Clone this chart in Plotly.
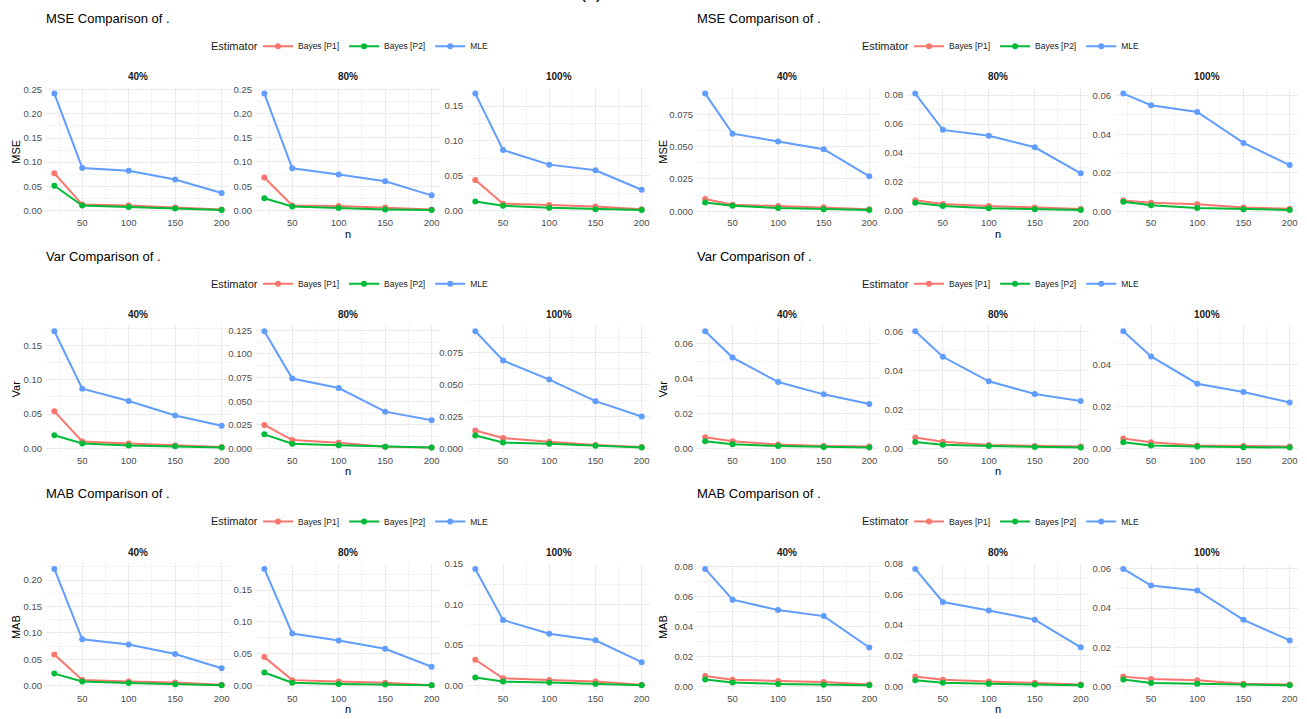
import plotly.graph_objects as go

W, H = 1307, 719
FONT = "Liberation Sans"

# ---------------------------------------------------------------- data
n_values = [20, 50, 100, 150, 200]
n_ticks = [50, 100, 150, 200]
n_minor = [25, 75, 125, 175]
censoring = ["40%", "80%", "100%"]
estimators = ["Bayes [P1]", "Bayes [P2]", "MLE"]
colors = ["#F8766D", "#00BA38", "#619CFF"]

# each list holds the 40%, 80%, 100% series over n_values
mse_a_p1 = [[0.077, 0.012, 0.010, 0.006, 0.002],
            [0.068, 0.010, 0.009, 0.006, 0.002],
            [0.044, 0.010, 0.008, 0.006, 0.002]]
mse_a_p2 = [[0.051, 0.010, 0.007, 0.004, 0.001],
            [0.025, 0.008, 0.005, 0.002, 0.001],
            [0.013, 0.007, 0.004, 0.002, 0.001]]
mse_a_mle = [[0.242, 0.088, 0.082, 0.064, 0.036],
             [0.241, 0.087, 0.074, 0.060, 0.031],
             [0.168, 0.087, 0.066, 0.058, 0.030]]
mse_a_step = [0.05, 0.05, 0.05]

mse_b_p1 = [[0.0095, 0.0050, 0.0040, 0.0030, 0.0015],
            [0.0075, 0.0048, 0.0035, 0.0025, 0.0015],
            [0.0057, 0.0045, 0.0037, 0.0020, 0.0014]]
mse_b_p2 = [[0.0068, 0.0043, 0.0025, 0.0015, 0.0010],
            [0.0058, 0.0035, 0.0020, 0.0013, 0.0008],
            [0.0050, 0.0032, 0.0018, 0.0012, 0.0008]]
mse_b_mle = [[0.091, 0.060, 0.054, 0.048, 0.027],
             [0.081, 0.056, 0.052, 0.044, 0.026],
             [0.061, 0.055, 0.0515, 0.0355, 0.024]]
mse_b_step = [0.025, 0.02, 0.02]

var_a_p1 = [[0.054, 0.010, 0.007, 0.004, 0.002],
            [0.025, 0.009, 0.006, 0.002, 0.001],
            [0.014, 0.008, 0.005, 0.0025, 0.001]]
var_a_p2 = [[0.019, 0.007, 0.004, 0.003, 0.001],
            [0.015, 0.005, 0.0035, 0.002, 0.001],
            [0.010, 0.0045, 0.0035, 0.002, 0.0005]]
var_a_mle = [[0.171, 0.087, 0.069, 0.048, 0.033],
             [0.124, 0.074, 0.064, 0.039, 0.030],
             [0.092, 0.069, 0.054, 0.037, 0.025]]
var_a_step = [0.05, 0.025, 0.025]

var_b_p1 = [[0.0065, 0.0042, 0.0023, 0.0015, 0.0012],
            [0.0058, 0.0037, 0.0020, 0.0015, 0.0012],
            [0.0048, 0.0030, 0.0015, 0.0012, 0.0010]]
var_b_p2 = [[0.0042, 0.0025, 0.0015, 0.0010, 0.0006],
            [0.0036, 0.0022, 0.0015, 0.0010, 0.0007],
            [0.0030, 0.0015, 0.0010, 0.0006, 0.0005]]
var_b_mle = [[0.067, 0.052, 0.038, 0.031, 0.0255],
             [0.060, 0.047, 0.0345, 0.028, 0.0245],
             [0.056, 0.044, 0.031, 0.027, 0.022]]
var_b_step = [0.02, 0.02, 0.02]

mab_a_p1 = [[0.059, 0.011, 0.008, 0.006, 0.002],
            [0.045, 0.009, 0.007, 0.005, 0.001],
            [0.032, 0.009, 0.007, 0.005, 0.001]]
mab_a_p2 = [[0.023, 0.008, 0.005, 0.003, 0.001],
            [0.021, 0.005, 0.003, 0.002, 0.001],
            [0.010, 0.005, 0.004, 0.002, 0.0005]]
mab_a_mle = [[0.221, 0.088, 0.078, 0.060, 0.033],
             [0.183, 0.082, 0.071, 0.058, 0.030],
             [0.144, 0.081, 0.064, 0.056, 0.029]]
mab_a_step = [0.05, 0.05, 0.05]

mab_b_p1 = [[0.0070, 0.0045, 0.0037, 0.0030, 0.0013],
            [0.0065, 0.0043, 0.0033, 0.0025, 0.0013],
            [0.0050, 0.0038, 0.0032, 0.0014, 0.0010]]
mab_b_p2 = [[0.0047, 0.0027, 0.0017, 0.0012, 0.0008],
            [0.0040, 0.0025, 0.0017, 0.0012, 0.0008],
            [0.0035, 0.0018, 0.0013, 0.0009, 0.0006]]
mab_b_mle = [[0.0785, 0.058, 0.051, 0.047, 0.026],
             [0.0765, 0.055, 0.0495, 0.0435, 0.0255],
             [0.060, 0.0515, 0.049, 0.034, 0.0235]]
mab_b_step = [0.02, 0.02, 0.02]

# (measure label, row, column, series, y tick steps)
blocks = [
    ("MSE", 0, 0, (mse_a_p1, mse_a_p2, mse_a_mle), mse_a_step),
    ("MSE", 0, 1, (mse_b_p1, mse_b_p2, mse_b_mle), mse_b_step),
    ("Var", 1, 0, (var_a_p1, var_a_p2, var_a_mle), var_a_step),
    ("Var", 1, 1, (var_b_p1, var_b_p2, var_b_mle), var_b_step),
    ("MAB", 2, 0, (mab_a_p1, mab_a_p2, mab_a_mle), mab_a_step),
    ("MAB", 2, 1, (mab_b_p1, mab_b_p2, mab_b_mle), mab_b_step),
]

# ---------------------------------------------------------------- layout geometry (pixels)
panel_cols = [
    [(46, 230), (256, 440), (467, 650)],
    [(697, 877.5), (907, 1089), (1115, 1298)],
]
row_offset = [0, 239.67, 479.33]
panel_top, panel_bottom = 83.5, 212.5
title_y, legend_y, strip_y, xtitle_y = 13.5, 41.5, 72.5, 230.5
ytitle_x = [16, 663]
legend_title_x = [209, 860]   # left edge of the "Estimator" caption
legend_items_x = [258, 909]   # left edge of the legend entries

GRID = "#EBEBEB"
MINOR = "#F3F3F3"
TICK_FONT = dict(family=FONT, size=9.5, color="#4D4D4D")


def fx(p):
    return p / W


def fy(p):
    return 1 - p / H


fig = go.Figure()
layout = dict(
    width=W, height=H,
    margin=dict(l=0, r=0, t=0, b=0),
    paper_bgcolor="white", plot_bgcolor="white",
    font=dict(family=FONT, color="#1A1A1A"),
)
annotations = []

for b, (measure, row, col, series, steps) in enumerate(blocks):
    oy = row_offset[row]
    legend_name = "legend" if b == 0 else f"legend{b + 1}"
    layout[legend_name] = dict(
        orientation="h", x=fx(legend_items_x[col]), y=fy(legend_y + oy),
        xanchor="left", yanchor="middle",
        font=dict(family=FONT, size=8.5, color="#1A1A1A"),
        itemwidth=30, bgcolor="rgba(0,0,0,0)", tracegroupgap=0,
    )
    annotations.append(dict(
        text="Estimator", x=fx(legend_title_x[col]), y=fy(legend_y + oy),
        xref="paper", yref="paper", showarrow=False, xanchor="left", yanchor="middle",
        font=dict(family=FONT, size=11, color="#1A1A1A"),
    ))
    for f in range(3):
        k = b * 3 + f + 1
        xa = "xaxis" if k == 1 else f"xaxis{k}"
        ya = "yaxis" if k == 1 else f"yaxis{k}"
        xr = "x" if k == 1 else f"x{k}"
        yr = "y" if k == 1 else f"y{k}"
        x0, x1 = panel_cols[col][f]

        vals = series[0][f] + series[1][f] + series[2][f]
        lo, hi = min(vals), max(vals)
        pad = 0.05 * (hi - lo)
        step = steps[f]
        fmt = ".3f" if round(step * 1000) % 10 else ".2f"

        layout[xa] = dict(
            domain=[fx(x0), fx(x1)], anchor=yr, range=[11, 209],
            tickmode="array", tickvals=n_ticks, ticks="",
            showgrid=True, gridcolor=GRID, gridwidth=1.2,
            minor=dict(tickmode="array", tickvals=n_minor, showgrid=True,
                       gridcolor=MINOR, gridwidth=0.8),
            zeroline=False, showline=False, tickfont=TICK_FONT,
            ticklabelstandoff=0,
        )
        layout[ya] = dict(
            domain=[fy(panel_bottom + oy), fy(panel_top + oy)], anchor=xr,
            range=[lo - pad, hi + pad],
            tickmode="linear", tick0=0, dtick=step, tickformat=fmt, ticks="",
            showgrid=True, gridcolor=GRID, gridwidth=1.2,
            minor=dict(tickmode="linear", tick0=0, dtick=step / 2, showgrid=True,
                       gridcolor=MINOR, gridwidth=0.8),
            zeroline=False, showline=False, tickfont=TICK_FONT,
            ticklabelstandoff=3,
        )

        for s, est in enumerate(estimators):
            fig.add_trace(go.Scatter(
                x=n_values, y=series[s][f], mode="lines+markers", name=est,
                line=dict(color=colors[s], width=2),
                marker=dict(color=colors[s], size=6),
                xaxis=xr, yaxis=yr, legend=legend_name, showlegend=(f == 0),
            ))

        # facet strip label
        annotations.append(dict(
            text=f"<b>{censoring[f]}</b>", x=fx((x0 + x1) / 2), y=fy(strip_y + oy),
            xref="paper", yref="paper", showarrow=False, xanchor="center", yanchor="middle",
            font=dict(family=FONT, size=10, color="#1A1A1A"),
        ))

    first_x0 = panel_cols[col][0][0]
    last_x1 = panel_cols[col][2][1]
    annotations.append(dict(
        text=f"{measure} Comparison of .", x=fx(first_x0 - 2), y=fy(title_y + oy),
        xref="paper", yref="paper", showarrow=False, xanchor="left", yanchor="middle",
        font=dict(family=FONT, size=13, color="black"),
    ))
    annotations.append(dict(
        text=measure, x=fx(ytitle_x[col]), y=fy((panel_top + panel_bottom) / 2 + oy),
        xref="paper", yref="paper", showarrow=False, textangle=-90,
        xanchor="center", yanchor="middle",
        font=dict(family=FONT, size=11, color="black"),
    ))
    annotations.append(dict(
        text="n", x=fx((first_x0 + last_x1) / 2), y=fy(xtitle_y + oy),
        xref="paper", yref="paper", showarrow=False, xanchor="center", yanchor="middle",
        font=dict(family=FONT, size=11, color="black"),
    ))

# heading above the grid of comparisons, mostly beyond the top edge
annotations.append(dict(
    text="(a)", x=fx(591), y=fy(-1), xref="paper", yref="paper", showarrow=False,
    xanchor="center", yanchor="bottom", font=dict(family=FONT, size=18, color="black"),
))

layout["annotations"] = annotations
fig.update_layout(**layout)
fig.write_html("out.html")
